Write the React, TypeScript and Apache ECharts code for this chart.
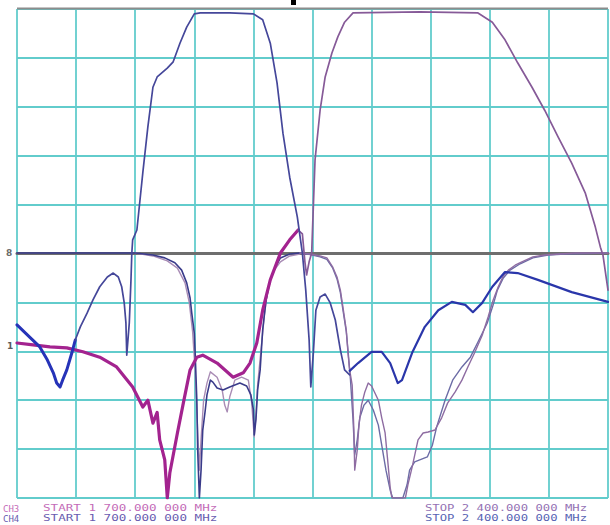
import React, { useEffect, useRef } from "react";
import * as echarts from "echarts";

// Sweep: START 1 700.000 000 MHz  -> STOP 2 400.000 000 MHz, 10 divisions
const START_MHZ = 1700;
const STOP_MHZ = 2400;
const X_DIV_MHZ = 70;
const Y_MIN_DB = -100;
const Y_MAX_DB = 0;
const Y_DIV_DB = 10;
const REF_LEVEL_DB = -50;

// [MHz, dB]
const lowBandRejLeft: [number, number][] = [
  [1700, -64.6], [1715, -67.1], [1727, -69.1], [1736, -71.8], [1743, -74.4], [1747, -76.5],
  [1751, -77.3], [1754, -75.9], [1759, -73.8], [1765, -70.3], [1769, -67.7],
];
const lowBandMain: [number, number][] = [
  [1769, -67.7], [1775, -65.0], [1783, -62.2], [1790, -59.5], [1798, -56.8], [1807, -54.8],
  [1814, -54.0], [1820, -54.8], [1824, -56.8], [1827, -60.1], [1829, -64.2], [1830, -70.8],
  [1833, -64.2], [1835, -55.4], [1836, -49.9], [1837, -47.2], [1842, -45.2], [1849, -33.5],
  [1855, -24.1], [1861, -16.0], [1866, -13.9], [1878, -12.1], [1885, -10.8], [1893, -7.0],
  [1901, -3.7], [1910, -1.0], [1917, -0.8], [1952, -0.8], [1980, -1.0], [1991, -2.2],
  [2000, -7.0], [2008, -15.1], [2015, -25.4], [2023, -34.4], [2032, -42.5], [2038, -49.9],
  [2042, -57.5], [2046, -67.7], [2048, -77.3], [2051, -70.3], [2054, -61.6], [2059, -58.9],
  [2065, -58.3], [2071, -60.1], [2077, -63.6], [2083, -69.7], [2088, -73.8], [2094, -74.8],
];
const lowBandRejRight: [number, number][] = [
  [2094, -74.0], [2104, -72.4], [2120, -70.1], [2132, -70.1], [2142, -72.4], [2151, -76.5],
  [2156, -75.9], [2168, -70.3], [2183, -65.0], [2199, -61.6], [2215, -59.9], [2231, -60.5],
  [2240, -62.0], [2251, -60.1], [2263, -56.8], [2278, -53.8], [2293, -54.0], [2317, -55.4],
  [2357, -57.9], [2400, -59.9],
];
const highBandRejLeft: [number, number][] = [
  [1700, -68.3], [1719, -68.7], [1739, -69.1], [1759, -69.3], [1778, -70.1], [1798, -71.2],
  [1818, -73.2], [1837, -77.3], [1849, -81.4], [1855, -80.0], [1861, -84.7], [1866, -82.5],
  [1869, -88.1], [1875, -92.2], [1878, -100], [1881, -94.9], [1890, -86.7], [1897, -80.6],
  [1905, -73.8], [1913, -71.2], [1920, -70.8], [1937, -72.4], [1956, -75.3], [1968, -74.4],
  [1976, -72.4], [1984, -68.3], [1991, -61.6], [2000, -55.4], [2012, -49.9], [2023, -47.2],
  [2033, -45.2],
];
const highBandMain: [number, number][] = [
  [2033, -45.2], [2038, -46.0], [2041, -51.7], [2043, -54.4], [2046, -51.7], [2049, -49.9],
  [2053, -30.9], [2059, -20.7], [2065, -13.9], [2073, -9.0], [2080, -5.7], [2088, -2.7],
  [2098, -0.8], [2177, -0.6], [2246, -0.8], [2263, -2.7], [2278, -6.3], [2293, -11.0],
  [2310, -16.0], [2325, -20.7], [2341, -26.2], [2357, -31.5], [2373, -37.6], [2385, -44.6],
  [2391, -48.7], [2394, -50.3], [2400, -57.5],
];
const lowBandReturnA: [number, number][] = [
  [1700, -49.9], [1840, -49.9], [1861, -50.3], [1875, -50.9], [1887, -51.9], [1895, -53.4],
  [1901, -56.0], [1905, -59.1], [1907, -62.2], [1910, -66.3], [1911, -70.3], [1913, -80.0],
  [1914, -90.2], [1916, -100], [1918, -94.3], [1920, -86.1], [1923, -82.0], [1925, -78.9],
  [1929, -75.9], [1932, -76.3], [1937, -77.5], [1944, -77.9], [1952, -77.3], [1964, -76.5],
  [1972, -77.1], [1977, -78.9], [1980, -82.0], [1981, -87.1], [1983, -84.0], [1985, -77.9],
  [1988, -73.8], [1991, -65.6], [1995, -59.5], [2000, -55.4], [2006, -52.8], [2012, -50.9],
  [2023, -50.1], [2035, -49.9],
];
const lowBandReturnB: [number, number][] = [
  [1840, -49.9], [1861, -50.5], [1878, -51.5], [1890, -53.0], [1899, -56.0], [1904, -60.0],
  [1908, -66.0], [1911, -74.0], [1914, -86.0], [1916, -94.3], [1918, -88.0], [1921, -80.0],
  [1925, -76.5], [1929, -74.2], [1937, -75.3], [1943, -77.9], [1946, -81.0], [1949, -82.4],
  [1952, -79.3], [1958, -75.9], [1966, -75.3], [1974, -75.9], [1978, -80.6], [1981, -87.5],
  [1983, -83.0], [1985, -76.9], [1989, -69.7], [1993, -62.6], [1997, -57.5], [2003, -53.8],
  [2012, -51.7], [2023, -50.5], [2035, -50.1],
];
const highBandReturnA: [number, number][] = [
  [2035, -49.9], [2047, -50.1], [2059, -50.5], [2067, -50.9], [2074, -52.8], [2079, -54.8],
  [2083, -57.5], [2086, -60.9], [2090, -65.6], [2092, -70.3], [2094, -73.8], [2097, -76.9],
  [2099, -86.1], [2100, -94.3], [2103, -90.2], [2105, -85.1], [2108, -81.0], [2112, -78.3],
  [2116, -76.5], [2120, -77.1], [2128, -80.0], [2132, -83.6], [2136, -86.7], [2139, -92.2],
  [2142, -97.8], [2144, -100], [2160, -100], [2163, -97.3], [2168, -93.7], [2175, -88.1],
  [2181, -86.7], [2187, -86.5], [2195, -86.1], [2203, -83.6], [2210, -80.6], [2219, -78.3],
  [2227, -75.9], [2234, -73.2], [2242, -70.3], [2251, -66.7], [2258, -63.0], [2264, -59.5],
  [2270, -56.8], [2276, -54.6], [2282, -53.4], [2290, -52.4], [2298, -51.7], [2311, -50.7],
  [2325, -50.3], [2343, -50.1], [2361, -49.9], [2400, -49.9],
];
const highBandReturnB: [number, number][] = [
  [2035, -49.9], [2047, -50.2], [2059, -50.7], [2067, -51.2], [2074, -53.0], [2079, -55.2],
  [2083, -58.0], [2086, -61.5], [2090, -66.0], [2092, -69.7], [2095, -75.9], [2098, -84.0],
  [2100, -91.2], [2103, -88.1], [2106, -83.6], [2111, -81.0], [2116, -80.0], [2122, -82.0],
  [2128, -85.1], [2132, -89.2], [2137, -94.3], [2142, -98.4], [2145, -100], [2157, -100],
  [2162, -97.3], [2165, -94.3], [2171, -92.6], [2177, -92.2], [2186, -91.6], [2192, -89.2],
  [2197, -85.5], [2207, -80.0], [2216, -75.9], [2227, -73.2], [2237, -71.2], [2246, -68.1],
  [2257, -64.2], [2264, -60.5], [2269, -57.5], [2276, -55.0], [2284, -53.4], [2296, -52.1],
  [2311, -50.9], [2329, -50.3], [2349, -50.1], [2400, -49.9],
];

const channelLabels = ["CH3", "CH4"];
const startLabel = "START 1 700.000 000 MHz";
const stopLabel = "STOP 2 400.000 000 MHz";
const refMarkers = ["8", "1"];

export default function App() {
  const ref = useRef<HTMLDivElement>(null);

  useEffect(() => {
    if (!ref.current) return;
    const chart = echarts.init(ref.current, undefined, { renderer: "svg" });

    const toXY = (d: [number, number][]) => d.map(([f, v]) => [f - START_MHZ, v]);
    const line = (name: string, data: [number, number][], color: string, width: number, z: number) => ({
      type: "line",
      name,
      data: toXY(data),
      showSymbol: false,
      symbol: "none",
      silent: true,
      z,
      lineStyle: { color, width, join: "round", cap: "round" },
      itemStyle: { color },
    });

    const mono = "'DejaVu Sans Mono', monospace";
    const textColors = ["#c46cb8", "#6a5cb0"];
    const stopColors = ["#9472b4", "#5864b4"];
    const rowY = [508.5, 518.5];

    chart.setOption({
      animation: false,
      backgroundColor: "#ffffff",
      grid: { left: 17, right: 2, top: 9, bottom: 27 },
      xAxis: {
        type: "value",
        min: 0,
        max: STOP_MHZ - START_MHZ,
        interval: X_DIV_MHZ,
        axisLine: { show: false },
        axisTick: { show: false },
        axisLabel: { show: false },
        splitLine: { show: true, lineStyle: { color: "#62cccc", width: 1.8 } },
      },
      yAxis: {
        type: "value",
        min: Y_MIN_DB,
        max: Y_MAX_DB,
        interval: Y_DIV_DB,
        axisLine: { show: false },
        axisTick: { show: false },
        axisLabel: { show: false },
        splitLine: { show: true, lineStyle: { color: "#62cccc", width: 1.8 } },
      },
      series: [
        line("ref", [[START_MHZ, REF_LEVEL_DB], [STOP_MHZ, REF_LEVEL_DB]], "#6e6e6e", 3, 1),
        line("lowRL_B", lowBandReturnB, "#a98cb5", 1.4, 2),
        line("lowRL_A", lowBandReturnA, "#3a3b8a", 1.6, 3),
        line("highRL_B", highBandReturnB, "#6c6ca6", 1.4, 2),
        line("highRL_A", highBandReturnA, "#8e6ca2", 1.4, 3),
        line("highRej", highBandRejLeft, "#a3238f", 3.2, 4),
        line("highPass", highBandMain, "#865a98", 1.7, 4),
        line("lowRejL", lowBandRejLeft, "#2633b8", 3, 5),
        line("lowMain", lowBandMain, "#45479a", 1.7, 5),
        line("lowRejR", lowBandRejRight, "#2a36aa", 2.2, 5),
      ],
      graphic: [
        {
          type: "line",
          shape: { x1: 17, y1: 8.5, x2: 608, y2: 8.5 },
          style: { stroke: "#8c8c8c", lineWidth: 2 },
          z: 10,
        },
        { type: "rect", shape: { x: 291, y: 0, width: 5, height: 5 }, style: { fill: "#000000" }, z: 10 },
        {
          type: "text",
          x: 6,
          y: 253,
          style: { text: refMarkers[0], fill: "#6a6a6a", font: "bold 9px 'DejaVu Sans'", verticalAlign: "middle" },
          z: 10,
        },
        {
          type: "text",
          x: 7,
          y: 346,
          style: { text: refMarkers[1], fill: "#5a5a5a", font: "bold 9px 'DejaVu Sans'", verticalAlign: "middle" },
          z: 10,
        },
        ...channelLabels.flatMap((ch, i) => [
          {
            type: "text",
            x: 3,
            y: rowY[i],
            style: { text: ch, fill: textColors[i], font: `9px ${mono}`, verticalAlign: "middle" },
          },
          {
            type: "text",
            x: 43,
            y: rowY[i],
            scaleX: 1.4,
            style: { text: startLabel, fill: textColors[i], font: `9px ${mono}`, verticalAlign: "middle" },
          },
          {
            type: "text",
            x: 425,
            y: rowY[i],
            scaleX: 1.36,
            style: { text: stopLabel, fill: stopColors[i], font: `9px ${mono}`, verticalAlign: "middle" },
          },
        ]),
      ],
    });

    return () => chart.dispose();
  }, []);

  return (
    <div
      ref={ref}
      style={{ position: "fixed", left: 0, top: 0, width: 610, height: 525, background: "#fff" }}
    />
  );
}
